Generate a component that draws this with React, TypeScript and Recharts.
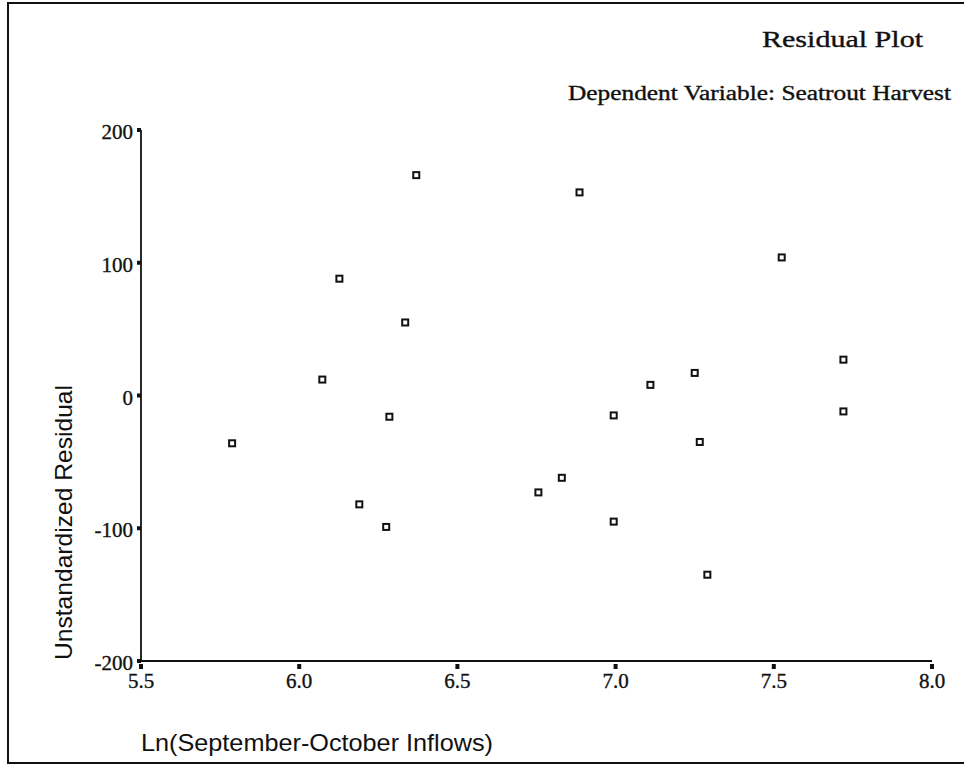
import { ScatterChart, Scatter, XAxis, YAxis } from "recharts";

// Ln(Sep-Oct inflows) vs unstandardized residual
const inflowLn = [
  5.788, 6.073, 6.127, 6.19, 6.275, 6.285, 6.335, 6.37, 6.756, 6.83,
  6.886, 6.994, 6.994, 7.11, 7.25, 7.266, 7.29, 7.525, 7.72, 7.72
];
const residuals = [
  -36, 12, 88, -82, -99, -16, 55, 166, -73, -62,
  153, -15, -95, 8, 17, -35, -135, 104, 27, -12
];
const xTicks = [5.5, 6.0, 6.5, 7.0, 7.5, 8.0];
const yTicks = [-200, -100, 0, 100, 200];

const points = inflowLn.map((x, i) => ({ x, y: residuals[i] }));

const INK = "#111";
const SERIF = "'Liberation Serif', 'Times New Roman', serif";
const SANS = "'Liberation Sans', Arial, sans-serif";

// scanned print looks a bit heavier than a clean font
const heavy = { stroke: INK, strokeWidth: 0.35 };

function XTick(props: any) {
  const { x, y, payload } = props;
  return (
    <g>
      <rect x={x - 2} y={y + 3} width={4} height={5} fill={INK} />
      <text x={x} y={y + 27} textAnchor="middle" fontFamily={SERIF} fontSize={21} fill={INK} {...heavy}>
        {Number(payload.value).toFixed(1)}
      </text>
    </g>
  );
}

function YTick(props: any) {
  const { x, y, payload } = props;
  return (
    <g>
      <rect x={x - 4} y={y - 2} width={4} height={4} fill={INK} />
      <text x={x - 8} y={y + 9} textAnchor="end" fontFamily={SERIF} fontSize={21} fill={INK} {...heavy}>
        {payload.value}
      </text>
    </g>
  );
}

function HollowSquare(props: any) {
  const { cx, cy } = props;
  return <rect x={cx - 3} y={cy - 3} width={6} height={6} fill="#fff" stroke={INK} strokeWidth={2} />;
}

export default function App() {
  return (
    <div style={{ position: "absolute", left: 0, top: 0, width: 964, height: 767, background: "#fff" }}>
      {/* page frame: left, top and bottom edges only */}
      <div
        style={{
          position: "absolute",
          left: 7,
          top: 2,
          width: 957,
          height: 762,
          borderLeft: `2px solid ${INK}`,
          borderTop: `2px solid ${INK}`,
          borderBottom: `2px solid ${INK}`,
          boxSizing: "border-box"
        }}
      />
      <div style={{ position: "absolute", left: 0, top: 0 }}>
        <ScatterChart width={964} height={767} margin={{ top: 130, right: 32, bottom: 76, left: 81 }}>
          <XAxis
            type="number"
            dataKey="x"
            domain={[5.5, 8]}
            ticks={xTicks}
            height={30}
            tickSize={0}
            tickMargin={0}
            tickLine={false}
            axisLine={{ stroke: INK, strokeWidth: 1.8 }}
            tick={<XTick />}
          />
          <YAxis
            type="number"
            dataKey="y"
            domain={[-200, 200]}
            ticks={yTicks}
            width={60}
            tickSize={0}
            tickMargin={0}
            tickLine={false}
            axisLine={{ stroke: INK, strokeWidth: 1.8 }}
            tick={<YTick />}
          />
          <Scatter data={points} shape={<HollowSquare />} isAnimationActive={false} />

          <text x={762} y={47} fontFamily={SERIF} fontSize={23} fill={INK} textLength={161} lengthAdjust="spacingAndGlyphs" {...heavy}>
            Residual Plot
          </text>
          <text x={568} y={100} fontFamily={SERIF} fontSize={20} fill={INK} textLength={383} lengthAdjust="spacingAndGlyphs" {...heavy}>
            Dependent Variable: Seatrout Harvest
          </text>
          <text x={141} y={751} fontFamily={SANS} fontSize={24} fill={INK} textLength={352} lengthAdjust="spacingAndGlyphs">
            Ln(September-October Inflows)
          </text>
          <text
            x={72}
            y={660}
            transform="rotate(-90 72 660)"
            fontFamily={SANS}
            fontSize={24}
            fill={INK}
            textLength={275}
            lengthAdjust="spacingAndGlyphs"
          >
            Unstandardized Residual
          </text>
        </ScatterChart>
      </div>
    </div>
  );
}
